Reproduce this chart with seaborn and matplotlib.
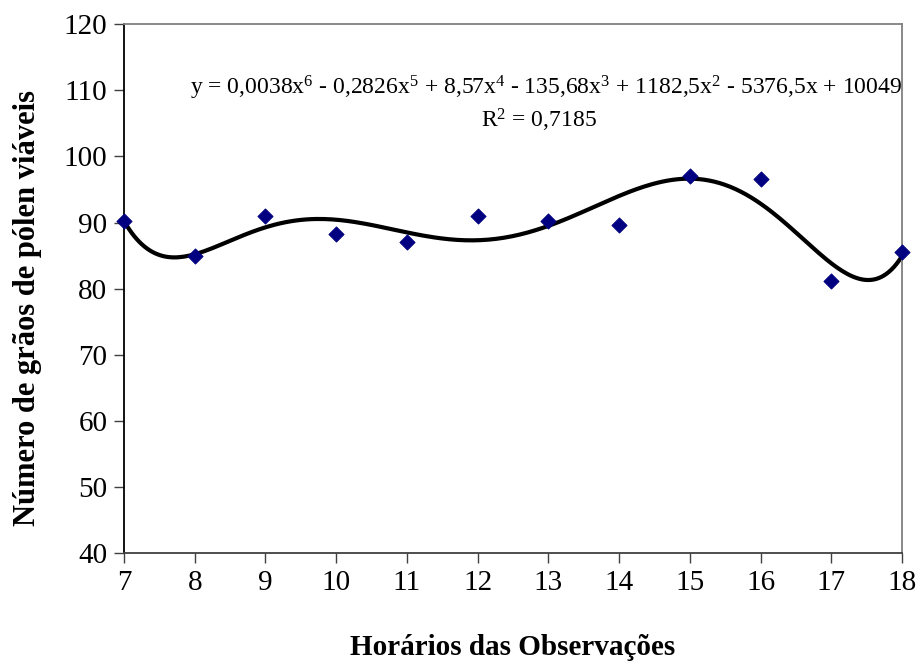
import numpy as np
import pandas as pd
import matplotlib
matplotlib.use("Agg")
import matplotlib.pyplot as plt
import seaborn as sns

# Observed data (hour of observation vs. viable pollen grains)
horarios = [7, 8, 9, 10, 11, 12, 13, 14, 15, 16, 17, 18]
graos_viaveis = [90.2, 84.9, 91.0, 88.3, 87.1, 91.0, 90.3, 89.7, 97.0, 96.5, 81.2, 85.5]

x_ticks = list(range(7, 19))
y_ticks = [40, 50, 60, 70, 80, 90, 100, 110, 120]

equacao = ("y = 0,0038x$^{6}$ - 0,2826x$^{5}$ + 8,57x$^{4}$ - 135,68x$^{3}$"
           " + 1182,5x$^{2}$ - 5376,5x + 10049")
r2_texto = "R$^{2}$ = 0,7185"

sns.set_style("white")
plt.rcParams['font.family'] = ['Liberation Serif', 'DejaVu Serif']
plt.rcParams['mathtext.fontset'] = 'custom'
plt.rcParams['mathtext.rm'] = 'Liberation Serif'
plt.rcParams['mathtext.it'] = 'Liberation Serif'
plt.rcParams['text.color'] = 'black'
plt.rcParams['axes.labelcolor'] = 'black'
plt.rcParams['xtick.color'] = 'black'
plt.rcParams['ytick.color'] = 'black'

df = pd.DataFrame({'Horario': horarios, 'Graos': graos_viaveis})

# 6th order polynomial trend line fitted to the points
coef = np.polyfit(df['Horario'], df['Graos'], 6)
xs = np.linspace(7, 18, 300)
trend = pd.DataFrame({'Horario': xs, 'Graos': np.polyval(coef, xs)})

fig = plt.figure(figsize=(9.19, 6.62), dpi=100)
ax = fig.add_axes([0.1349, 0.1640, 0.8466, 0.7998])

sns.lineplot(data=trend, x='Horario', y='Graos', ax=ax, color='black', linewidth=3.0, zorder=2)
sns.scatterplot(data=df, x='Horario', y='Graos', ax=ax, marker='D', s=60,
                color='#000080', edgecolor='#000080', zorder=3, clip_on=False)

ax.set_xlim(7, 18)
ax.set_ylim(40, 120)
ax.set_xticks(x_ticks)
ax.set_yticks(y_ticks)
ax.tick_params(axis='both', direction='out', length=7, width=1, color='#404040',
               labelsize=21, labelcolor='black', pad=5, left=True, bottom=True)

ax.spines['left'].set_color('black')
ax.spines['bottom'].set_color('#404040')
ax.spines['top'].set_color('#808080')
ax.spines['right'].set_color('#808080')
for s in ax.spines.values():
    s.set_linewidth(1.3)

ax.set_xlabel('Horários das Observações', fontsize=21, fontweight='bold', labelpad=27)
ax.set_ylabel('Número de grãos de pólen viáveis', fontsize=22, fontweight='bold')
ax.yaxis.set_label_coords(-0.106, 0.463)

ax.text(0.542, 0.880, equacao, transform=ax.transAxes, ha='center', va='center', fontsize=17)
ax.text(0.534, 0.817, r2_texto, transform=ax.transAxes, ha='center', va='center', fontsize=17)

fig.savefig('out.png', dpi=100)
